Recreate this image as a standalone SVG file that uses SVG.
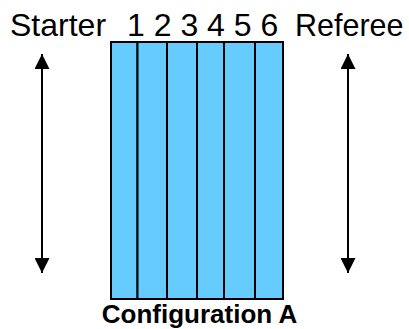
<svg xmlns="http://www.w3.org/2000/svg" width="409" height="329" viewBox="0 0 409 329">
  <defs>
    <style>
      .lbl { font-family: "Liberation Sans", Arial, sans-serif; fill: #000; }
      .lane { fill: #66CCFF; stroke: #000; stroke-width: 2; }
      .arr { stroke: #000; stroke-width: 2; fill: none; marker-start: url(#head); marker-end: url(#head); }
    </style>
    <marker id="head" viewBox="0 0 16 15" refX="15" refY="7.5" markerWidth="16" markerHeight="15" markerUnits="userSpaceOnUse" orient="auto-start-reverse">
      <path d="M0,0 L15,7.5 L0,15 Z" fill="#000"/>
    </marker>
  </defs>
  <text class="lbl" x="10" y="36" font-size="32">Starter</text>
  <text class="lbl" x="127" y="36" font-size="32">1 2 3 4 5 6</text>
  <text class="lbl" x="295" y="36" font-size="30.5">Referee</text>
  <g id="lanes">
    <rect class="lane" x="111" y="42" width="26.5" height="257"/>
    <rect class="lane" x="137.5" y="42" width="29.5" height="257"/>
    <rect class="lane" x="167" y="42" width="30" height="257"/>
    <rect class="lane" x="197" y="42" width="27" height="257"/>
    <rect class="lane" x="224" y="42" width="31" height="257"/>
    <rect class="lane" x="255" y="42" width="28" height="257"/>
  </g>
  <g id="connectors">
    <line class="arr" x1="42" y1="54" x2="42" y2="273"/>
    <line class="arr" x1="348" y1="54" x2="348" y2="273"/>
  </g>
  <text class="lbl" x="199.5" y="323" font-size="26" font-weight="bold" text-anchor="middle">Configuration A</text>
</svg>
